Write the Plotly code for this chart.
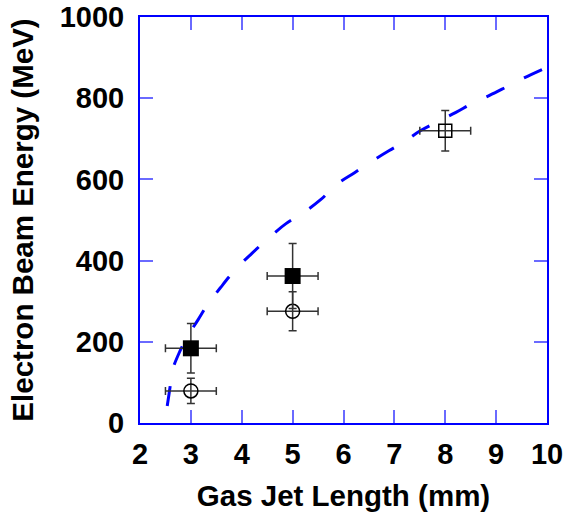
import plotly.graph_objects as go

# Measured data points
filled_x = [3, 5]
filled_y = [184, 362]
filled_yerr = [61, 80]
filled_xerr = [0.5, 0.5]

open_circle_x = [3, 5]
open_circle_y = [79, 275]
open_circle_yerr = [31, 48]
open_circle_xerr = [0.5, 0.5]

open_square_x = [8]
open_square_y = [720]
open_square_yerr = [50]
open_square_xerr = [0.5]

# Dashed curve
curve_x = [2.535, 2.59, 2.63, 2.76, 2.92, 3.14, 3.33, 3.58, 3.89, 4.2, 4.55, 4.87,
           5.19, 5.55, 5.88, 6.21, 6.55, 6.9, 7.19, 7.5, 7.88, 8.21, 8.54, 8.87,
           9.19, 9.55, 10.0]
curve_y = [42, 88, 127, 170, 210, 254, 292, 333, 380, 418, 458, 491,
           516, 550, 589, 616, 644, 671, 692, 719, 744, 765, 788, 807,
           827, 850, 876]

x_ticks = [2, 3, 4, 5, 6, 7, 8, 9, 10]
y_ticks = [0, 200, 400, 600, 800, 1000]

err_color = "#333333"

fig = go.Figure()

fig.add_trace(go.Scatter(
    x=curve_x, y=curve_y, mode="lines", line_shape="spline",
    line=dict(color="#0000ff", width=3, dash="20px,22px"),
    hoverinfo="skip", showlegend=False))

def err(arr):
    return dict(type="data", array=arr, visible=True, color=err_color, thickness=1.5, width=4)

fig.add_trace(go.Scatter(
    x=open_circle_x, y=open_circle_y, mode="markers",
    marker=dict(symbol="circle-open", size=14, color="black", line=dict(width=1.5)),
    error_y=err(open_circle_yerr), error_x=err(open_circle_xerr), showlegend=False))

fig.add_trace(go.Scatter(
    x=open_square_x, y=open_square_y, mode="markers",
    marker=dict(symbol="square-open", size=13, color="black", line=dict(width=1.5)),
    error_y=err(open_square_yerr), error_x=err(open_square_xerr), showlegend=False))

fig.add_trace(go.Scatter(
    x=filled_x, y=filled_y, mode="markers",
    marker=dict(symbol="square", size=16, color="black"),
    error_y=err(filled_yerr), error_x=err(filled_xerr), showlegend=False))

font_fam = "Liberation Sans, Arial, Helvetica, sans-serif"

axis_common = dict(
    showline=True, linecolor="#0000ff", linewidth=2, mirror="allticks",
    ticks="inside", ticklen=13, tickwidth=2, tickcolor="#6a6aff",
    showgrid=False, zeroline=False, automargin=False,
    ticklabeloverflow="allow",
    tickfont=dict(family=font_fam, size=29, color="black", weight="bold"),
)

fig.update_layout(
    width=577, height=513,
    margin=dict(l=140, r=30, t=17, b=90),
    paper_bgcolor="white", plot_bgcolor="white",
    xaxis=dict(range=[2, 10], tickvals=x_ticks, ticktext=[str(v) for v in x_ticks],
               ticklabelstandoff=4,
               title=dict(text="Gas Jet Length (mm)", standoff=17,
                          font=dict(family=font_fam, size=29.5, color="black", weight="bold")),
               **axis_common),
    yaxis=dict(range=[0, 1000], tickvals=y_ticks, ticktext=[str(v) for v in y_ticks],
               ticklabelstandoff=8,
               title=dict(text="Electron Beam Energy (MeV)", standoff=17,
                          font=dict(family=font_fam, size=29.5, color="black", weight="bold")),
               **axis_common),
)

fig.write_html("out.html", config={"displayModeBar": False},
               post_script="document.body.style.margin='0px';")
